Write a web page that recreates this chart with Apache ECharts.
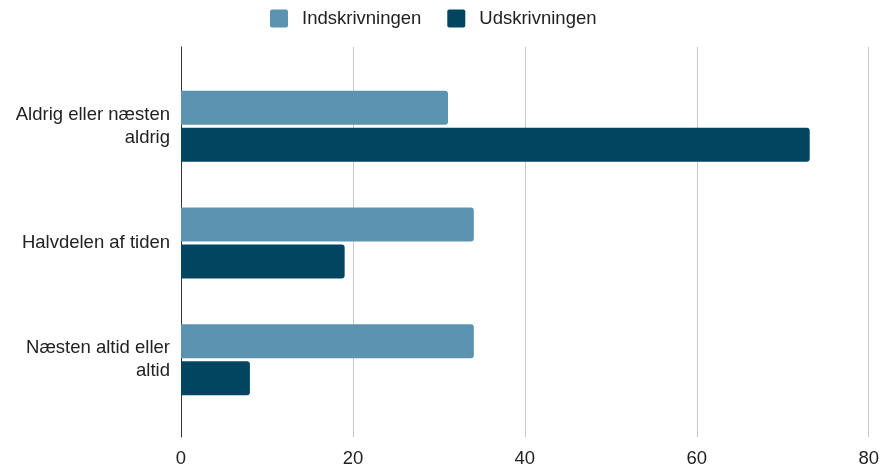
<!DOCTYPE html>
<html>
<head>
<meta charset="utf-8">
<script src="https://cdn.jsdelivr.net/npm/echarts@6/dist/echarts.min.js"></script>
<style>
  html, body { margin: 0; padding: 0; background: #fff; }
  #main { width: 882px; height: 470px; }
</style>
</head>
<body>
<div id="main"></div>
<script>
// categories and values
var categories = ['Aldrig eller næsten\naldrig', 'Halvdelen af tiden', 'Næsten altid eller\naltid'];
var seriesNames = ['Indskrivningen', 'Udskrivningen'];
var indskrivning = [31, 34, 34];
var udskrivning = [73, 19, 8];
var xTicks = [0, 20, 40, 60, 80];

var colors = ['#5b93b0', '#024561'];
var font = "'Liberation Sans', Arial, sans-serif";

var myChart = echarts.init(document.getElementById('main'));

var option = {
	animation: false,
	color: colors,
	textStyle: { fontFamily: font },
	legend: {
		data: seriesNames,
		top: 4,
		left: 265,
		icon: 'path://M2,0 H16 A2,2 0 0 1 18,2 V16 A2,2 0 0 1 16,18 H2 A2,2 0 0 1 0,16 V2 A2,2 0 0 1 2,0 Z',
		itemWidth: 18,
		itemHeight: 18,
		itemGap: 26,
		textStyle: { fontSize: 18.5, color: '#222', fontFamily: font, padding: [0, 0, 0, 9] }
	},
	grid: [
		// bars
		{ left: 181, right: 12, top: 68, height: 350 },
		// frame: gridlines and axis line reach a bit further
		{ left: 181, right: 12, top: 47, height: 390 }
	],
	xAxis: [
		{ gridIndex: 0, type: 'value', min: 0, max: 80, show: false },
		{
			gridIndex: 1, type: 'value', min: xTicks[0], max: xTicks[xTicks.length - 1], interval: 20,
			axisLine: { show: false },
			axisTick: { show: false },
			splitLine: { lineStyle: { color: '#c8c8c8', width: 1 } },
			axisLabel: { fontSize: 18.5, color: '#222', margin: 12, fontFamily: font }
		}
	],
	yAxis: [
		{
			gridIndex: 0, type: 'category', data: categories, inverse: true,
			axisLine: { show: false },
			axisTick: { show: false },
			axisLabel: { fontSize: 18.5, color: '#222', margin: 11, lineHeight: 23, align: 'right', fontFamily: font }
		},
		{
			gridIndex: 1, type: 'value', min: 0, max: 1,
			axisLine: { show: true, lineStyle: { color: '#333', width: 1 } },
			axisTick: { show: false },
			axisLabel: { show: false },
			splitLine: { show: false }
		}
	],
	series: [
		{
			name: seriesNames[0], type: 'bar', xAxisIndex: 0, yAxisIndex: 0,
			data: indskrivning, barWidth: 34, barGap: '9%',
			itemStyle: { borderRadius: [0, 3, 3, 0] }
		},
		{
			name: seriesNames[1], type: 'bar', xAxisIndex: 0, yAxisIndex: 0,
			data: udskrivning, barWidth: 34, barGap: '9%',
			itemStyle: { borderRadius: [0, 3, 3, 0] }
		}
	]
};

myChart.setOption(option);
</script>
</body>
</html>
